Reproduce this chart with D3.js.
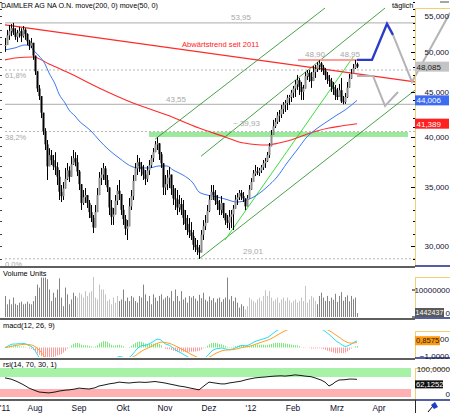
<!DOCTYPE html>
<html>
<head>
<meta charset="utf-8">
<script src="https://cdn.jsdelivr.net/npm/d3@7"></script>
<style>
html, body { margin: 0; padding: 0; background: #fff; }
svg { display: block; font-family: "Liberation Sans", Arial, sans-serif; }
</style>
</head>
<body>
<div id="chart"></div>
<script>
/* DATA - Daimler daily bars, Jul 2011 .. Mar 2012 */
const closes = [
  50.9, 52.2, 52.8, 53.2, 52.6, 52.0, 52.5, 52.8, 52.1, 53.0, 52.4, 51.4, 50.8, 51.2, 49.5,
  47.5, 45.4, 44.5, 42.6, 40.6, 39.2, 37.0, 38.1, 37.6, 37.0, 36.9, 36.0, 34.6, 34.2, 34.9, 35.8, 36.6, 36.0, 37.2, 37.8, 37.4, 36.5,
  35.3, 33.6, 34.1, 34.3, 33.6, 32.8, 32.3, 31.5, 32.8, 34.3, 35.9, 36.2, 36.8, 35.7, 35.0, 33.2, 32.4, 32.6, 33.8, 34.7, 34.4, 33.0,
  32.2, 31.4, 31.6, 33.3, 34.2, 35.6, 36.8, 37.4, 37.0, 36.7, 36.2, 35.8, 36.6, 37.1, 37.8, 38.4, 39.2, 39.3, 38.2, 37.3, 35.0,
  35.3, 35.9, 36.2, 34.9, 34.0, 33.9, 33.2, 33.5, 33.0, 32.3, 31.8, 31.3, 31.1, 30.8, 30.1, 29.9, 29.7, 29.5, 30.9, 31.6, 31.9, 32.9,
  33.9, 34.6, 34.3, 33.8, 33.5, 33.0, 33.6, 32.7, 32.1, 31.9, 32.4, 32.6, 33.1, 33.9, 34.1, 34.5, 34.2, 34.0, 33.3, 34.0, 34.8,
  35.5, 36.3, 36.5, 36.4, 36.6, 36.9, 37.3, 37.5, 38.1, 39.0, 40.2, 41.1, 41.6, 42.3, 42.4, 43.0, 43.5, 43.7, 44.3, 44.4, 44.9, 45.4,
  45.9, 46.4, 45.6, 45.0, 45.4, 46.9, 47.3, 46.8, 46.3, 47.4, 47.8, 48.3, 48.5, 48.0, 47.6, 47.0, 46.5, 46.3, 45.6, 45.3, 44.6, 44.4,
  45.2, 43.9, 43.8, 44.4, 45.5, 46.6, 47.2, 47.9, 48.4, 48.085
];
const highs = [
  51.85, 52.97, 53.66, 53.8, 53.95, 53.2, 52.97, 53.4, 53.2, 53.5, 53.2, 52.5, 51.6, 51.85, 50.9,
  49.2, 47.05, 45.83, 44.3, 42.35, 40.9, 39.65, 38.8, 38.62, 38.12, 38.4, 37.4, 36.64, 35.22, 35.5, 36.84, 37.32, 37.0, 38.0, 38.62, 38.4, 38.12,
  36.64, 34.76, 34.76, 34.94, 34.31, 33.86, 33.42, 32.55, 33.42, 34.94, 36.45, 36.84, 37.32, 37.03, 36.16, 34.94, 33.86, 33.16, 34.31, 35.22, 35.69, 34.31,
  33.42, 32.55, 32.12, 34.04, 34.76, 36.16, 37.32, 38.12, 37.82, 37.42, 37.13, 36.64, 37.03, 37.62, 38.12, 38.82, 39.55, 39.93, 39.34, 38.42, 37.13,
  36.16, 36.64, 36.93, 36.16, 35.22, 34.94, 34.76, 34.31, 34.04, 33.86, 32.98, 32.55, 32.29, 31.95, 31.29, 30.64, 30.48, 30.08, 31.29, 32.12, 32.55, 33.42,
  34.31, 35.22, 35.22, 34.76, 34.31, 33.86, 34.22, 33.42, 32.63, 32.55, 32.98, 32.98, 33.42, 34.31, 34.49, 34.76, 34.76, 34.58, 33.86, 34.31, 35.22,
  35.87, 36.64, 37.13, 36.93, 36.84, 37.13, 37.62, 37.82, 38.42, 39.34, 40.71, 41.8, 42.01, 42.68, 42.9, 43.48, 43.82, 44.05, 44.64, 44.64, 45.23, 45.71,
  46.43, 47.05, 46.68, 46.19, 45.83, 47.42, 47.67, 47.67, 47.42, 48.17, 48.3, 48.69, 48.90, 48.69, 48.3, 47.92, 47.42, 47.05, 46.68, 46.19, 45.83, 45.47,
  45.95, 46.68, 44.52, 44.87, 46.19, 47.17, 47.79, 48.43, 48.95, 48.6
];
const lows = [
  49.99, 51.3, 51.59, 52.1, 52.27, 51.6, 51.3, 51.9, 51.3, 51.9, 51.6, 50.9, 50.25, 50.5, 48.95,
  47.05, 45.0, 44.05, 42.0, 40.18, 38.62, 35.69, 37.13, 37.13, 36.64, 36.16, 35.22, 33.86, 33.68, 33.86, 35.22, 35.69, 35.5, 36.64, 37.13, 37.0, 36.06,
  34.76, 32.98, 33.42, 33.6, 33.16, 32.29, 31.95, 31.04, 31.71, 32.8, 34.76, 35.22, 35.69, 35.22, 34.58, 32.55, 31.71, 31.71, 32.8, 33.42, 33.86, 32.55,
  31.71, 30.88, 30.48, 32.29, 32.98, 33.86, 35.69, 36.16, 36.45, 36.06, 35.69, 35.22, 35.5, 36.16, 36.84, 37.42, 38.42, 38.62, 37.62, 36.84, 34.31,
  34.31, 34.76, 34.94, 34.31, 33.42, 32.98, 32.55, 32.8, 32.55, 31.71, 31.29, 30.88, 30.64, 30.48, 29.69, 29.53, 29.3, 29.01, 29.69, 30.48, 31.29, 32.12,
  32.8, 33.86, 33.86, 33.42, 32.98, 32.55, 32.55, 32.29, 31.71, 31.45, 31.29, 31.45, 31.29, 33.16, 33.42, 33.86, 33.86, 33.68, 32.98, 33.42, 34.04,
  34.76, 35.69, 36.06, 36.16, 36.06, 36.35, 36.64, 36.84, 37.42, 37.82, 39.13, 40.39, 40.92, 41.36, 41.58, 42.01, 42.46, 42.68, 42.9, 43.48, 43.82, 44.29,
  44.4, 45.23, 44.64, 44.05, 44.05, 45.47, 46.43, 46.19, 45.47, 46.43, 46.68, 47.42, 47.67, 47.42, 47.05, 46.43, 45.95, 45.59, 44.99, 44.64, 44.05, 44.05,
  44.4, 43.7, 43.55, 43.6, 44.29, 45.71, 46.55, 47.3, 47.79, 47.9
];
// volume in millions
const volumes = [
  7.8, 4.7, 6.5, 4.7, 7.2, 4.9, 4.4, 5.3, 5.7, 4.7, 4.9, 5.7, 4.9, 4.7, 5.9,
  7.8, 12.0, 10.9, 14.6, 14.6, 14.6, 14.0, 10.2, 5.9, 9.0, 7.2, 10.2, 14.3, 7.2, 4.0, 10.9, 8.4, 4.7, 6.5, 9.0, 7.8, 7.2,
  9.0, 8.4, 7.2, 9.6, 7.8, 9.0, 9.6, 14.8, 7.2, 6.5, 12.0, 10.2, 10.2, 8.4, 5.9, 6.5, 4.7, 7.2, 5.3, 7.8, 5.9, 6.5,
  10.2, 5.9, 7.2, 5.9, 7.8, 7.2, 5.9, 5.3, 7.8, 7.2, 12.0, 8.4, 5.9, 7.8, 4.7, 8.4, 7.2, 5.9, 7.8, 8.4, 6.5,
  7.2, 7.8, 7.2, 9.6, 5.9, 10.2, 7.8, 5.9, 9.6, 6.5, 7.2, 5.3, 7.8, 7.2, 7.8, 6.8, 6.0, 8.2, 7.0, 9.0, 6.4, 5.8,
  7.6, 6.2, 7.0, 5.4, 6.8, 7.2, 5.6, 6.6, 7.2, 14.6, 6.5, 7.8, 5.9, 7.2, 5.3, 3.5, 4.7, 4.0, 2.8, 4.0, 7.2,
  6.5, 5.9, 5.3, 6.5, 7.2, 5.9, 7.8, 9.9, 7.8, 9.6, 7.2, 5.9, 6.5, 7.2, 5.3, 6.5, 7.2, 5.9, 7.2, 6.2, 5.3, 6.0,
  6.5, 5.3, 5.9, 7.2, 5.9, 11.5, 5.3, 6.5, 7.8, 7.2, 5.9, 4.7, 7.8, 9.0, 7.2, 5.9, 7.8, 5.9, 7.2, 6.4, 8.6, 5.6,
  7.8, 9.2, 6.0, 7.4, 8.0, 5.8, 7.8, 6.6, 7.2, 1.442437
];
const volLightRanges = [[36, 56], [120, 155]];

// moving averages [bar index, value]
const ma50 = [[0,50.25],[5,50.52],[10,50.91],[12,50.80],[15,49.99],[17,49.46],[20,48.43],[22,47.30],[25,45.95],
  [27,44.75],[30,43.71],[32,42.90],[35,42.24],[37,41.69],[40,41.14],[43,40.60],[47,39.65],[52,38.62],[57,37.82],
  [64,36.93],[67,36.84],[72,36.84],[77,37.03],[81,37.03],[84,36.64],[89,36.16],[94,35.41],[97,34.58],[101,34.31],
  [106,34.13],[110,33.95],[116,33.68],[121,33.86],[126,34.31],[131,35.04],[136,35.97],[141,37.32],[146,38.62],
  [151,39.97],[155,40.71],[160,41.47],[166,42.35],[170,42.90],[176,44.006]];
const ma200 = [[0,48.95],[5,49.20],[14,49.33],[22,48.43],[31,47.42],[47,45.47],[64,43.71],[81,42.35],[97,40.92],
  [110,39.97],[117,39.44],[125,39.19],[131,39.13],[137,39.34],[143,39.65],[150,40.18],[156,40.60],[162,40.92],
  [168,41.14],[176,41.389]];
// rsi(14) [bar index, value]
const rsiPts = [[0,67],[3,63],[6,55],[9,45],[12,33],[15,25],[17,20],[20,18],[22,17],[25,20],[27,23],[30,26],[32,27],
  [35,30],[37,33],[40,31],[42,30],[45,34],[47,40],[50,44],[52,47],[55,50],[57,53],[60,51],[62,50],[65,52],[67,53],
  [70,52],[72,53],[75,55],[77,53],[80,50],[82,47],[85,43],[87,40],[90,37],[92,34],[95,30],[97,27],[100,43],[102,53],
  [105,50],[108,47],[110,47],[112,50],[115,53],[118,56],[120,60],[122,63],[125,67],[128,69],[130,70],[133,72],
  [135,73],[138,74],[140,73],[143,75],[145,77],[148,75],[150,73],[153,71],[155,67],[158,60],[160,53],[162,40],
  [164,47],[165,53],[167,60],[170,61],[172,63],[174,63],[176,62.1252]];

// drawings [bar index, price]
const downTrend = [[0, 53.66], [205, 46.2]];
const channelLines = [
  [[75, 39.73], [160, 56.1]],
  [[98, 37.99], [190, 56.1]],
  [[97, 29.0], [205, 45.2]]
];
const steepLine = [[110, 30.48], [174, 49.3]];
const resistance = [[146.5, 48.93], [184, 48.93]];
const supportZone = { from: 72, to: 201.5, lo: 39.97, hi: 40.50 };
const levelLines = [53.95, 43.55];
const fibLow = 29.01, fibHigh = 59.2;
const fibLevels = [0, 0.382, 0.618];
const projUp = [[176, 48.95], [183.5, 48.95], [191, 53.81], [194, 52.27]];
const projUpGray = [[194, 52.27], [203.5, 46.19], [222.5, 55.4]];
const projDown = [[176, 46.93], [184, 46.93], [190, 43.36], [196.5, 44.99]];

const months = [["'11", 0], ["Aug", 15], ["Sep", 37], ["Okt", 59], ["Nov", 80], ["Dez", 102],
  ["'12", 123], ["Feb", 144], ["Mrz", 166], ["Apr", 187]];
const priceTicks = [30, 35, 40, 45, 50, 55];

const lastPrice = 48.085, lastVolume = 1442437, lastSignal = 0.8575;

/////////////////////////////////////////////////////////////////////////////
const W = 450, H = 413, AX = 415;
const loc = d3.formatLocale({ decimal: ",", thousands: ".", grouping: [3], currency: ["", " €"] });
const f2 = loc.format(".2f"), f3 = loc.format(".3f"), f4 = loc.format(".4f");

const svg = d3.select('#chart').append('svg')
  .attr('width', W).attr('height', H)
  .style('background', '#fff');

//SCALES
const x = d3.scaleLinear().domain([0, 176]).range([5, 357]);
const y = d3.scaleLog().domain([28.39, 57.3]).range([267, 0]);
const yV = d3.scaleLinear().domain([0, 10]).range([317, 290]);
const yM = d3.scaleLinear().domain([-1, 1]).range([356, 339]);
const yR = d3.scaleLinear().domain([0, 100]).range([398, 368]);

const defs = svg.append('defs');
const clip = (id, x0, y0, w, h) => defs.append('clipPath').attr('id', id)
  .append('rect').attr('x', x0).attr('y', y0).attr('width', w).attr('height', h);
clip('cMain', 0, 4, AX, 262);
clip('cMacd', 0, 330, AX, 27);
clip('cMacdLbl', 440, 320, 10, 40);

/* ---------------- MAIN PANEL ---------------- */
const main = svg.append('g').attr('clip-path', 'url(#cMain)');

// support zone
main.append('rect')
  .attr('x', x(supportZone.from)).attr('width', x(supportZone.to) - x(supportZone.from))
  .attr('y', y(supportZone.hi)).attr('height', y(supportZone.lo) - y(supportZone.hi))
  .attr('fill', '#9ce89c');

// horizontal level lines
levelLines.forEach(v => {
  main.append('line').attr('x1', x(0)).attr('x2', AX).attr('y1', y(v)).attr('y2', y(v))
    .attr('stroke', '#bdbdbd').attr('stroke-width', 1.3);
});
fibLevels.forEach(f => {
  const v = fibLow + f * (fibHigh - fibLow);
  main.append('line').attr('x1', x(0)).attr('x2', AX).attr('y1', y(v)).attr('y2', y(v))
    .attr('stroke', '#b8b8b8').attr('stroke-width', 1).attr('stroke-dasharray', '2,2');
  main.append('text').attr('x', 5).attr('y', y(v) + 8)
    .attr('font-size', 7.5).attr('fill', '#a8a8a8')
    .text(loc.format(".1f")(f * 100) + '%');
});

const seg = (pts, color, w) => main.append('line')
  .attr('x1', x(pts[0][0])).attr('y1', y(pts[0][1]))
  .attr('x2', x(pts[1][0])).attr('y2', y(pts[1][1]))
  .attr('stroke', color).attr('stroke-width', w);

channelLines.forEach(l => seg(l, '#1a8a1a', 0.8));
seg(steepLine, '#22dd22', 0.9);
seg(downTrend, '#ff2a2a', 1.2);
seg(resistance, '#ff9c9c', 2);

// moving averages
const maLine = d3.line().x(d => x(d[0])).y(d => y(d[1])).curve(d3.curveMonotoneX);
main.append('path').datum(ma200).attr('d', maLine)
  .attr('fill', 'none').attr('stroke', '#ff2a2a').attr('stroke-width', 1.1);
main.append('path').datum(ma50).attr('d', maLine)
  .attr('fill', 'none').attr('stroke', '#3c78f0').attr('stroke-width', 1);

// candles
const bars = closes.map((c, i) => ({
  i, c, h: highs[i], l: lows[i], o: i > 0 ? closes[i - 1] : c
}));
const cg = main.append('g');
cg.selectAll('line.wick').data(bars).join('line')
  .attr('class', 'wick')
  .attr('x1', d => Math.round(x(d.i)) + 0.5).attr('x2', d => Math.round(x(d.i)) + 0.5)
  .attr('y1', d => y(Math.max(d.h, d.o, d.c))).attr('y2', d => y(Math.min(d.l, d.o, d.c)))
  .attr('stroke', '#000').attr('stroke-width', 1);
cg.selectAll('rect.body').data(bars).join('rect')
  .attr('class', 'body')
  .attr('x', d => Math.round(x(d.i)) - 0.5).attr('width', 2)
  .attr('y', d => y(Math.max(d.o, d.c)))
  .attr('height', d => Math.max(1, y(Math.min(d.o, d.c)) - y(Math.max(d.o, d.c))))
  .attr('fill', d => d.c >= d.o ? '#8c8c8c' : '#000');

// level labels
const lbl = (txt, xx, yy, col) => svg.append('text').attr('x', xx).attr('y', yy)
  .attr('font-size', 8).attr('fill', col).text(txt);
lbl(f2(53.95), 231, y(53.95) - 3, '#a8a8a8');
lbl(f2(43.55), 166, y(43.55) - 2, '#a8a8a8');
lbl('~ ' + f2(39.93), 233, y(39.93) - 11, '#a8a8a8');
lbl(f2(29.01), 243, y(29.01) - 5, '#a8a8a8');
lbl(f2(48.90), 305, y(48.93) - 3, '#a8a8a8');
lbl(f2(48.95), 340, y(48.93) - 3, '#a8a8a8');
svg.append('text').attr('x', 182).attr('y', 47).attr('font-size', 7.6).attr('fill', '#ff2020')
  .text('Abwärtstrend seit 2011');

// projections (drawn over the axis area)
const pLine = d3.line().x(d => x(d[0])).y(d => y(d[1]));
svg.append('path').datum(projUpGray).attr('d', pLine)
  .attr('fill', 'none').attr('stroke', '#b4b4b4').attr('stroke-width', 2);
svg.append('path').datum(projDown).attr('d', pLine)
  .attr('fill', 'none').attr('stroke', '#b4b4b4').attr('stroke-width', 2);
svg.append('path').datum(projUp).attr('d', pLine)
  .attr('fill', 'none').attr('stroke', '#2a3cc8').attr('stroke-width', 2.4);

// title
svg.append('text').attr('x', 1).attr('y', 8).attr('font-size', 7.2).attr('fill', '#000')
  .text('DAIMLER AG NA O.N. move(200, 0) move(50, 0)');
svg.append('text').attr('x', 392).attr('y', 8).attr('font-size', 7.4).attr('fill', '#000')
  .text('täglich');
svg.append('line').attr('x1', 440).attr('x2', 449).attr('y1', 2).attr('y2', 2)
  .attr('stroke', '#888').attr('stroke-width', 1.5);

/* ---------------- VOLUME ---------------- */
const isLight = i => volLightRanges.some(r => i >= r[0] && i <= r[1]);
svg.append('g').selectAll('rect').data(volumes).join('rect')
  .attr('x', (d, i) => Math.round(x(i))).attr('width', 1)
  .attr('y', d => yV(d)).attr('height', d => yV(0) - yV(d))
  .attr('fill', (d, i) => isLight(i) ? '#c4c4c4' : '#848484');

/* ---------------- MACD ---------------- */
const ema = (arr, n) => {
  const k = 2 / (n + 1), out = [];
  arr.forEach((v, i) => out.push(i ? out[i - 1] + k * (v - out[i - 1]) : v));
  return out;
};
const e12 = ema(closes, 12), e26 = ema(closes, 26);
const macd = e12.map((v, i) => v - e26[i]);
const signal = ema(macd, 9);
const hist = macd.map((v, i) => v - signal[i]);

const mg = svg.append('g').attr('clip-path', 'url(#cMacd)');
mg.selectAll('rect').data(hist).join('rect')
  .attr('x', (d, i) => Math.round(x(i))).attr('width', 1)
  .attr('y', d => Math.min(yM(0), yM(d))).attr('height', d => Math.abs(yM(d) - yM(0)))
  .attr('fill', d => d >= 0 ? '#78e878' : '#ff9a9a');
const idxLine = sc => d3.line().x((d, i) => x(i)).y(d => sc(d));
mg.append('path').datum(macd).attr('d', idxLine(yM))
  .attr('fill', 'none').attr('stroke', '#22e0f0').attr('stroke-width', 1);
mg.append('path').datum(signal).attr('d', idxLine(yM))
  .attr('fill', 'none').attr('stroke', '#ffa028').attr('stroke-width', 1);

/* ---------------- RSI ---------------- */
svg.append('rect').attr('x', 0).attr('width', 411).attr('y', yR(100)).attr('height', yR(70) - yR(100))
  .attr('fill', '#a8f2a8');
svg.append('rect').attr('x', 0).attr('width', 411).attr('y', yR(30)).attr('height', yR(0) - yR(30) - 1)
  .attr('fill', '#ffb0b0');
svg.append('path').datum(rsiPts).attr('d', d3.line().x(d => x(d[0])).y(d => yR(d[1])))
  .attr('fill', 'none').attr('stroke', '#000').attr('stroke-width', 0.9);

/* ---------------- FRAMES / AXES ---------------- */
const panels = [
  { top: 8, bottom: 266, label: null },
  { top: 277, bottom: 318, label: 'Volume Units', ly: 276 },
  { top: 331, bottom: 358, label: 'macd(12, 26, 9)', ly: 328 },
  { top: 368, bottom: 400, label: 'rsi(14, 70, 30, 1)', ly: 367 }
];
panels.forEach(p => {
  svg.append('line').attr('x1', AX + 0.5).attr('x2', AX + 0.5).attr('y1', p.top).attr('y2', p.bottom)
    .attr('stroke', '#f0d070').attr('stroke-width', 1);
  svg.append('line').attr('x1', AX).attr('x2', W).attr('y1', p.top + 0.5).attr('y2', p.top + 0.5)
    .attr('stroke', '#f0d070').attr('stroke-width', 1);
  svg.append('line').attr('x1', AX).attr('x2', W).attr('y1', p.bottom).attr('y2', p.bottom)
    .attr('stroke', '#1a2a80').attr('stroke-width', 1.5);
  if (p.label) svg.append('text').attr('x', 3).attr('y', p.ly).attr('font-size', 7.4).text(p.label);
});
[267, 319, 359, 400].forEach(yy => {
  svg.append('line').attr('x1', 0).attr('x2', AX).attr('y1', yy).attr('y2', yy)
    .attr('stroke', '#2a2a2a').attr('stroke-width', 1.5);
});

// price axis ticks
const minor = d3.range(29, 58);
svg.append('g').selectAll('line').data(minor).join('line')
  .attr('x1', d => d % 5 === 0 ? AX - 4 : AX - 2).attr('x2', AX)
  .attr('y1', d => Math.round(y(d)) + 0.5).attr('y2', d => Math.round(y(d)) + 0.5)
  .attr('stroke', '#000').attr('stroke-width', 1);
svg.append('g').selectAll('line').data(minor).join('line')
  .attr('x1', 0).attr('x2', 2)
  .attr('y1', d => Math.round(y(d)) + 0.5).attr('y2', d => Math.round(y(d)) + 0.5)
  .attr('stroke', '#444').attr('stroke-width', 1);
svg.append('g').selectAll('text').data(priceTicks).join('text')
  .attr('x', 449).attr('y', d => y(d) + 3).attr('text-anchor', 'end')
  .attr('font-size', 8).attr('fill', '#101030').text(d => f3(d));

// value boxes
const box = (txt, bg, fg, w, yy) => {
  svg.append('rect').attr('x', AX).attr('y', yy - 5).attr('width', w).attr('height', 10).attr('fill', bg);
  svg.append('text').attr('x', AX + 1.5).attr('y', yy + 3).attr('font-size', 8).attr('fill', fg).text(txt);
};
const ma50Last = ma50[ma50.length - 1][1], ma200Last = ma200[ma200.length - 1][1];
box(f3(lastPrice), '#c4c4c4', '#202020', 34, y(lastPrice));
box(f3(ma50Last), '#3c6cf0', '#fff', 34, y(ma50Last));
box(f3(ma200Last), '#ff2020', '#fff', 34, y(ma200Last));

// volume axis
[0, 10].forEach(v => {
  svg.append('line').attr('x1', AX - 3).attr('x2', AX).attr('y1', yV(v)).attr('y2', yV(v)).attr('stroke', '#000');
});
svg.append('text').attr('x', 450).attr('y', yV(10) + 3).attr('text-anchor', 'end').attr('font-size', 8)
  .attr('fill', '#101030').text('10000000');
svg.append('text').attr('x', 450).attr('y', yV(0) - 1).attr('text-anchor', 'end').attr('font-size', 8)
  .attr('fill', '#101030').text('0');
svg.append('rect').attr('x', AX).attr('y', yV(0) - 9).attr('width', 29).attr('height', 9).attr('fill', '#5a5a5a');
svg.append('text').attr('x', AX + 0.5).attr('y', yV(0) - 2).attr('font-size', 7)
  .attr('textLength', 28).attr('fill', '#fff').text(lastVolume);

// macd axis (upper label mostly hidden behind the value box, as in the source)
svg.append('text').attr('x', 449).attr('y', yM(1) + 3).attr('text-anchor', 'end').attr('font-size', 8)
  .attr('clip-path', 'url(#cMacdLbl)')
  .attr('fill', '#101030').text(f4(1));
svg.append('text').attr('x', 449).attr('y', yM(-1) + 3).attr('text-anchor', 'end').attr('font-size', 8)
  .attr('fill', '#101030').text(f4(-1));
svg.append('rect').attr('x', AX).attr('y', yM(lastSignal) - 4).attr('width', 25).attr('height', 9).attr('fill', '#ff9a10');
svg.append('text').attr('x', AX + 1).attr('y', yM(lastSignal) + 3).attr('font-size', 7.6).attr('fill', '#202020').text(f4(lastSignal));

// rsi axis
svg.append('text').attr('x', 450).attr('y', yR(100) + 4).attr('text-anchor', 'end').attr('font-size', 8)
  .attr('fill', '#101030').text(f4(100));
svg.append('text').attr('x', 450).attr('y', yR(0) - 1).attr('text-anchor', 'end').attr('font-size', 8)
  .attr('fill', '#101030').text('0');
const rsiLast = rsiPts[rsiPts.length - 1][1];
svg.append('rect').attr('x', AX).attr('y', yR(rsiLast) + 1).attr('width', 28).attr('height', 8).attr('fill', '#111');
svg.append('text').attr('x', AX + 1).attr('y', yR(rsiLast) + 8).attr('font-size', 7.6).attr('fill', '#fff').text(f4(rsiLast));

// time axis
svg.append('g').selectAll('text').data(months).join('text')
  .attr('x', d => x(d[1])).attr('y', 411).attr('text-anchor', 'middle')
  .attr('font-size', 8.4).attr('fill', '#101030').text(d => d[0]);
svg.append('line').attr('x1', AX + 0.5).attr('x2', AX + 0.5).attr('y1', 400).attr('y2', H).attr('stroke', '#2a2a2a');
svg.append('path').attr('d', 'M428,412 L433,406').attr('stroke', '#000').attr('stroke-width', 1);
svg.append('path').attr('d', 'M431,405 L435,402 L438,407 L434,409 Z').attr('fill', '#1a3cd0');
</script>
</body>
</html>
